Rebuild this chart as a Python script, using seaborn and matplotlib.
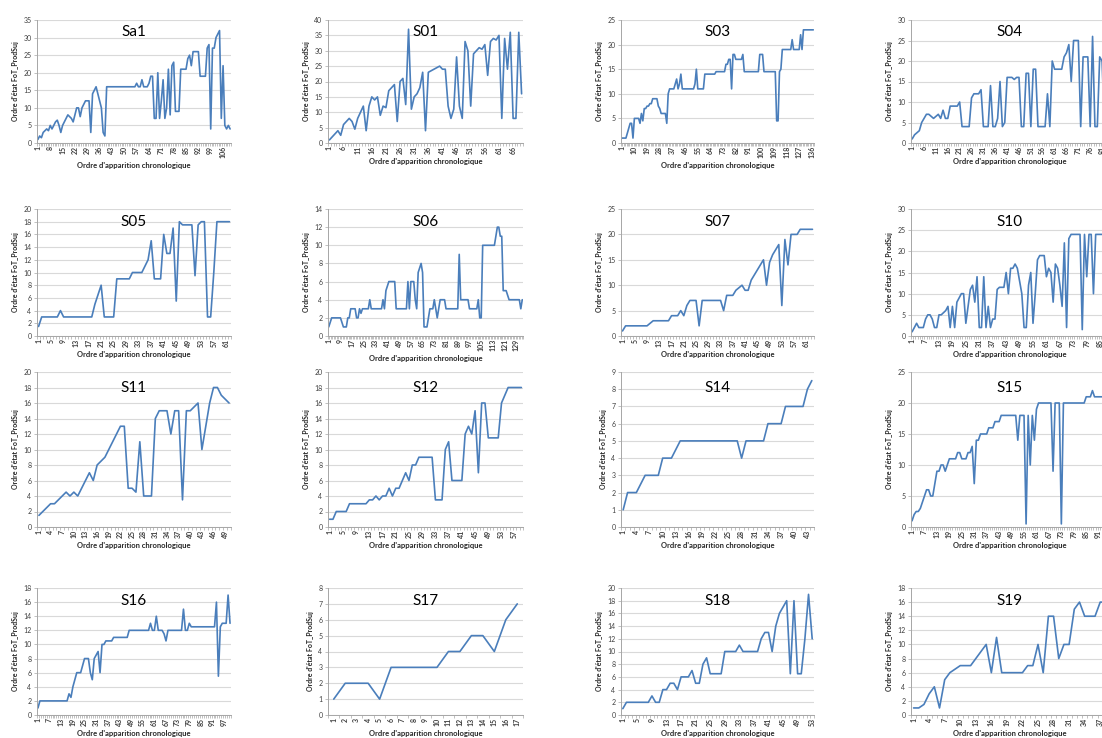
import matplotlib
matplotlib.use("Agg")
import matplotlib.pyplot as plt
import seaborn as sns
import numpy as np
import pandas as pd

# ---------------- data ----------------
titles = ["Sa1", "S01", "S03", "S04",
          "S05", "S06", "S07", "S10",
          "S11", "S12", "S14", "S15",
          "S16", "S17", "S18", "S19"]

sa1 = [1,2,1.5,3,3.5,4,3.5,5,4,5,
       6,6.5,5,3,5,6,7,8,7.5,7,
       6,8,10,10,7.5,10,11,12,12,12,
       3,14,15,16,14,12,10,3,2,16,
       16,16,16,16,16,16,16,16,16,16,
       16,16,16,16,16,16,17,16,16,18,
       16,16,16,17,19,19,7,7,20,7,
       12,18,7,10,21,8,22,23,9,9,
       9,21,21,21,21,24,25,22,26,26,
       26,26,19,19,19,19,27,28,4,27,
       27,30,31,32,7,22,5,4,5,4]
s01 = [1,2,3,4,2.5,6,7,8,7,4.5,
       8,10,12,4,12,15,14,15,9,12,
       11.5,17,18,19,7,20,21,12.5,37,11,
       15,16,18,23,4,23,23.5,24,24.5,25,
       24,24,12,8,11,28,12,8,33,30,
       12,29,30,31,30.5,32,22,33,34,33.5,
       35,8,34,24,36,8,8,36,16]
s03 = [1,1,1,1,2,3,4,4,
       1,5,5,5,5,4,6,4.5,
       7,7,7.5,7.5,8,8,9,9,
       9,9,7.5,7,6,6,6,6,
       4,10,11,11,11,11,12,13,
       11,12,14,11,11,11,11,11,
       11,11,11,11,12,15,11,11,
       11,11,11,14,14,14,14,14,
       14,14,14,14.5,14.5,14.5,14.5,14.5,
       14.5,14.5,16,16,17,17,11,18,
       18,17,17,17,17,17,18,14.5,
       14.5,14.5,14.5,14.5,14.5,14.5,14.5,14.5,
       14.5,14.5,18,18,18,14.5,14.5,14.5,
       14.5,14.5,14.5,14.5,14.5,14.5,4.5,4.5,
       14.5,15,19,19,19,19,19,19,
       19,21,19,19,19,19,19,22,
       19,23,23,23,23,23,23,23,23]
s04 = [1,2,2.5,3,5,6,7,7,6.5,6,
       6.5,7,6,8,6,6,9,9,9,9,
       10,4,4,4,4,11,12,12,12,13,
       4,4,4,14,4,4,6,15,4,5,
       16,16,16,15.5,16,16,4,4,17,17,
       4,18,18,4,4,4,4,12,4,20,
       18,18,18,18,21,22,24,15,25,25,
       25,4,21,21,21,4,26,4,4,21,
       20,4,4]
s05 = [1.5,3,3,3,3,3,3,4,3,3,
       3,3,3,3,3,3,3,3,5,6.5,
       8,3,3,3,3,9,9,9,9,9,
       10,10,10,10,11,12,15,9,9,9,
       16,13,13,17,5.5,18,17.5,17.5,17.5,17.5,
       9.5,17.5,18,18,3,3,10,18,18,18,18,18]
s06 = [1,1.5,2,2,2,2,2,2,2,1.5,
       1,1,1,2,2,3,3,3,3,2,
       2,3,2.5,3,3,3,3,3,4,3,
       3,3,3,3,3,3,3,4,3,5,
       5.5,6,6,6,6,6,3,3,3,3,
       3,3,3,3,6,3,6,6,6,4,
       3,7,7.5,8,7,1,1,1,2,3,
       3,3,4,3,2,3,4,4,4,4,
       3,3,3,3,3,3,3,3,3,9,
       4,4,4,4,4,4,3,3,3,3,
       3,3,4,2,2,10,10,10,10,10,
       10,10,10,10,11,12,12,11,11,5,
       5,5,4.5,4,4,4,4,4,4,4,
       4,3,4]
s07 = [1,2,2,2,2,2,2,2,2,2.5,
       3,3,3,3,3,3,4,4,4,5,
       4,6,7,7,7,2,7,7,7,7,
       7,7,7,5,8,8,8,9,9.5,10,
       9,9,11,12,13,14,15,10,14.5,16,
       17,18,6,19,14,20,20,20,21,21,21,21,21]
s10 = [1,2,3,2,2,2,4,5,5,4,
       2,2,5,5,5.5,6,7,2,7,2,
       8,9,10,10,3,7,11,12,8,14,
       2,2,14,2,7,2,4,4,11,11.5,
       11.5,11.5,15,10,16,16,17,16,13,10,
       2,2,12,15,3,10,18,19,19,19,
       14,16,15,8,17,16,12,7,22,2,
       23,24,24,24,24,24,1.5,24,14,24,
       24,10,24,24,24,24,24,24]
s11 = [1.5,2,2.5,3,3,3.5,4,4.5,4,4.5,
       4,5,6,7,6,8,8.5,9,10,11,
       12,13,13,5,5,4.5,11,4,4,4,
       14,15,15,15,12,15,15,3.5,15,15,
       15.5,16,10,13,16,18,18,17,16.5,16]
s12 = [1,1,2,2,2,2,3,3,3,3,
       3,3,3.5,3.5,4,3.5,4,4,5,4,
       5,5,6,7,6,8,8,9,9,9,
       9,9,3.5,3.5,3.5,10,11,6,6,6,
       6,12,13,12,15,7,16,16,11.5,11.5,
       11.5,11.5,16,17,18,18,18,18,18]
s14 = [1,2,2,2,2.5,3,3,3,3,4,
       4,4,4.5,5,5,5,5,5,5,5,
       5,5,5,5,5,5,5,4,5,5,
       5,5,5,6,6,6,6,7,7,7,
       7,7,8,8.5]
s15 = [1,2,2.5,2.5,3,4,5,6,6,5,
       5,7,9,9,10,10,9,10,11,11,
       11,11,12,12,11,11,11,12,12,13,
       7,14,14,15,15,15,15,16,16,16,
       17,17,17,18,18,18,18,18,18,18,
       18,14,18,18,18,0.5,18,10,18,14,
       19,20,20,20,20,20,20,20,9,20,
       20,20,0.5,20,20,20,20,20,20,20,
       20,20,20,20,21,21,21,22,21,21,
       21,21,21,21,21]
s16 = [1,2,2,2,2,2,2,2,2,2,
       2,2,2,2,2,2,3,2.5,4,5,
       6,6,6,7,8,8,8,6,5,8,
       8.5,9,6,10,10,10.5,10.5,10.5,10.5,11,
       11,11,11,11,11,11,11,12,12,12,
       12,12,12,12,12,12,12,12,13,12,
       12,14,12,12,12,11.5,10.5,12,12,12,
       12,12,12,12,12,15,12,12,13,12.5,
       12.5,12.5,12.5,12.5,12.5,12.5,12.5,12.5,12.5,12.5,
       12.5,12.5,16,5.5,12.5,13,13,13,17,13]
s17 = [1,2,2,2,1,3,3,3,3,3,4,4,5,5,4,6,7]
s18 = [1,2,2,2,2,2,2,2,3,2,
       2,4,4,5,5,4,6,6,6,7,
       5,5,8,9,6.5,6.5,6.5,6.5,10,10,
       10,10,11,10,10,10,10,10,12,13,
       13,10,14,16,17,18,6.5,18,6.5,6.5,
       12,19,12]
s19 = [1,1,1.5,3,4,1,5,6,6.5,7,
       7,7,8,9,10,6,11,6,6,6,
       6,6,7,7,10,6,14,14,8,10,
       10,15,16,14,14,14,16,16]

series = [sa1, s01, s03, s04, s05, s06, s07, s10,
          s11, s12, s14, s15, s16, s17, s18, s19]
y_max = [35, 40, 25, 30, 20, 14, 25, 30, 20, 20, 9, 25, 18, 8, 20, 18]
y_step = [5, 5, 5, 5, 2, 2, 5, 5, 2, 2, 1, 5, 2, 1, 2, 2]
x_step = [7, 5, 9, 5, 4, 8, 4, 6, 3, 4, 3, 6, 6, 1, 4, 3]

y_label = "Ordre d'état FoT_ProdSuj"
x_label = "Ordre d'apparition chronologique"

# ---------------- layout (pixels) ----------------
W, H = 1102, 738
col_lr = [(37, 231), (328, 523), (621, 814), (911, 1108)]
row_tb = [(20, 143), (209, 336), (372, 527), (588, 715)]

sns.set_theme(style="white")
plt.rcParams['font.family'] = ['Lato', 'DejaVu Sans']

fig = plt.figure(figsize=(W / 100, H / 100), dpi=100)
line_color = "#4A7EBB"
grid_color = "#D9D9D9"
axis_color = "#A6A6A6"

for i, (title, vals) in enumerate(zip(titles, series)):
    r, c = divmod(i, 4)
    l, rr = col_lr[c]
    t, b = row_tb[r]
    ax = fig.add_axes([l / W, 1 - b / H, (rr - l) / W, (b - t) / H])
    n = len(vals)
    df = pd.DataFrame({"x": np.arange(1, n + 1), "y": vals})
    sns.lineplot(data=df, x="x", y="y", ax=ax, color=line_color,
                 linewidth=1.2, sort=False, estimator=None)
    ax.set_xlim(0.5, n + 0.5)
    ax.set_ylim(0, y_max[i])
    ax.set_yticks(np.arange(0, y_max[i] + 0.01, y_step[i]))
    ax.set_yticklabels([f"{v:g}" for v in np.arange(0, y_max[i] + 0.01, y_step[i])],
                       fontsize=5, color="#404040")
    majors = np.arange(1, n + 1, x_step[i])
    ax.set_xticks(majors)
    ax.set_xticklabels([str(m) for m in majors], rotation=90, fontsize=5,
                       color="#404040", fontweight="bold")
    ax.set_xticks(np.arange(0.5, n + 1, 1), minor=True)
    ax.tick_params(axis="x", which="major", length=0, pad=2)
    ax.tick_params(axis="x", which="minor", length=2, width=0.5, color=axis_color,
                   bottom=True)
    ax.tick_params(axis="y", which="major", length=2, width=0.5, color=axis_color,
                   left=True, pad=2)
    ax.grid(axis="y", color=grid_color, linewidth=0.8)
    ax.grid(axis="x", visible=False)
    ax.set_axisbelow(True)
    for s in ["top", "right"]:
        ax.spines[s].set_visible(False)
    for s in ["left", "bottom"]:
        ax.spines[s].set_color(axis_color)
        ax.spines[s].set_linewidth(0.7)
    ax.set_xlabel(x_label, fontsize=5.5, fontweight="bold", labelpad=3)
    ax.set_ylabel(y_label, fontsize=5, fontweight="bold", labelpad=3)
    ax.text(0.5, 0.90, title, transform=ax.transAxes, ha="center", va="center",
            fontsize=11, color="black")

fig.savefig("out.png", dpi=100)
